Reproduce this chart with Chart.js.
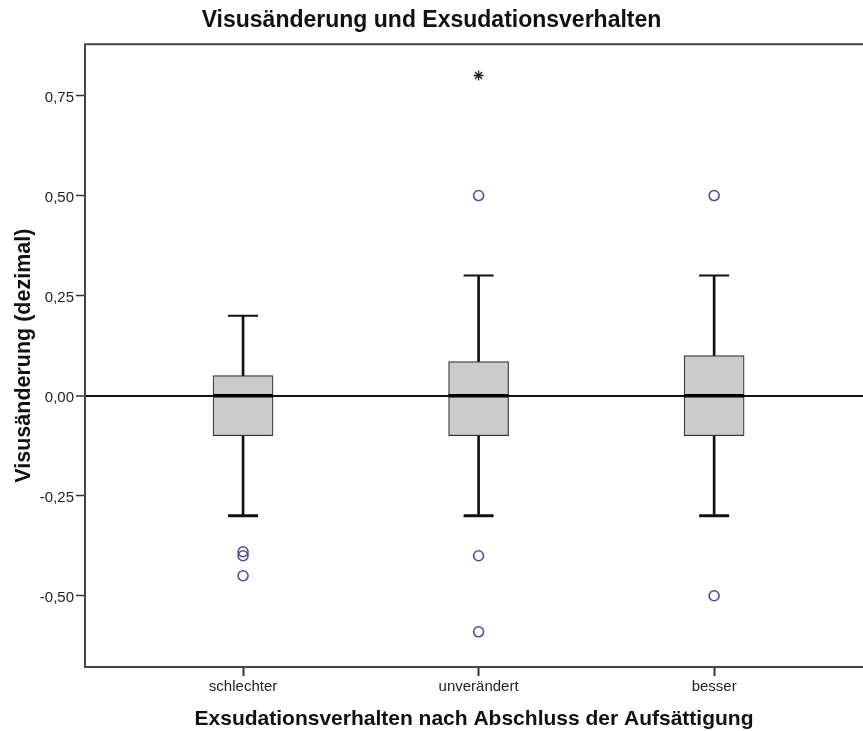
<!DOCTYPE html>
<html lang="de">
<head>
<meta charset="utf-8">
<title>Visusänderung und Exsudationsverhalten</title>
<script src="https://cdn.jsdelivr.net/npm/chart.js@4.4.1/dist/chart.umd.min.js"></script>
<style>
  html, body { margin: 0; padding: 0; background: #fff; overflow: hidden; }
  #wrap { width: 863px; height: 731px; position: relative; }
</style>
</head>
<body>
<div id="wrap"><canvas id="boxplot"></canvas></div>
<script>
const categories = ['schlechter', 'unverändert', 'besser'];
const whiskerLow = [-0.3, -0.3, -0.3];
const quartile1 = [-0.1, -0.1, -0.1];
const medians = [0, 0, 0];
const quartile3 = [0.05, 0.085, 0.1];
const whiskerHigh = [0.2, 0.3, 0.3];
const outliers = [[-0.39, -0.4, -0.45], [0.5, -0.4, -0.59], [0.5, -0.5]];
const extremes = [[], [0.8], []];
const yTicks = [-0.5, -0.25, 0, 0.25, 0.5, 0.75];

const FONT = "'Liberation Sans', Arial, sans-serif";
const pos = (i) => i + 1;
const perCategory = (values) => values.map((v, i) => ({ x: pos(i), y: v }));
const spans = (from, to) => from.map((v, i) => ({ x: pos(i), y: [v, to[i]] }));
const flatPoints = (groups) => groups.flatMap((vals, i) => vals.map((v) => ({ x: pos(i), y: v })));

// open frame round the plot (left, top, bottom), like the SPSS output
const framePlugin = {
  id: 'frame',
  beforeDatasetsDraw(chart) {
    const { ctx, chartArea: a } = chart;
    ctx.save();
    ctx.strokeStyle = '#444';
    ctx.lineWidth = 2;
    ctx.beginPath();
    ctx.moveTo(a.right, a.top);
    ctx.lineTo(a.left, a.top);
    ctx.lineTo(a.left, a.bottom);
    ctx.lineTo(a.right, a.bottom);
    ctx.stroke();
    ctx.restore();
  },
};

const ctx = document.getElementById('boxplot').getContext('2d');
// eslint-disable-next-line no-undef
const chart = new Chart(ctx, {
  type: 'bar',
  data: {
    datasets: [
      {
        type: 'scatter',
        data: perCategory(medians),
        pointStyle: 'line',
        pointRadius: 30,
        pointBorderWidth: 3.5,
        pointBorderColor: '#000',
        order: 0,
      },
      {
        type: 'scatter',
        data: perCategory(whiskerHigh),
        pointStyle: 'line',
        pointRadius: 15,
        pointBorderWidth: 2,
        pointBorderColor: '#111',
        order: 1,
      },
      {
        type: 'scatter',
        data: perCategory(whiskerLow),
        pointStyle: 'line',
        pointRadius: 15,
        pointBorderWidth: 3,
        pointBorderColor: '#111',
        order: 1,
      },
      {
        type: 'scatter',
        data: flatPoints(outliers),
        pointStyle: 'circle',
        pointRadius: 5,
        pointBorderWidth: 1.6,
        pointBorderColor: '#4d4d9c',
        pointBackgroundColor: 'rgba(255,255,255,0)',
        order: 1,
      },
      {
        type: 'scatter',
        data: flatPoints(extremes),
        pointStyle: 'star',
        pointRadius: 5,
        pointBorderWidth: 1.3,
        pointBorderColor: '#222',
        order: 1,
      },
      {
        data: spans(quartile1, quartile3),
        backgroundColor: '#cbcbcb',
        borderColor: '#333',
        borderWidth: 1.2,
        borderSkipped: false,
        barThickness: 60,
        grouped: false,
        order: 2,
      },
      {
        data: spans(quartile3, whiskerHigh),
        backgroundColor: '#111',
        barThickness: 2,
        grouped: false,
        order: 3,
      },
      {
        data: spans(whiskerLow, quartile1),
        backgroundColor: '#111',
        barThickness: 2,
        grouped: false,
        order: 3,
      },
    ],
  },
  options: {
    responsive: true,
    maintainAspectRatio: false,
    animation: false,
    events: [],
    layout: { padding: 0, autoPadding: false },
    plugins: {
      legend: { display: false },
      tooltip: { enabled: false },
      title: {
        display: true,
        text: 'Visusänderung und Exsudationsverhalten',
        color: '#111',
        font: { family: FONT, size: 23, weight: 'bold', lineHeight: 1.1 },
        padding: { top: 8, bottom: 11 },
      },
    },
    scales: {
      x: {
        type: 'linear',
        offset: false,
        min: 0.329,
        max: 3.632,
        afterBuildTicks: (scale) => {
          scale.ticks = categories.map((c, i) => ({ value: pos(i) }));
        },
        afterFit: (scale) => {
          scale.height = 64;
        },
        ticks: {
          callback: (value) => categories[value - 1],
          color: '#222',
          font: { family: FONT, size: 15 },
          padding: 2,
          autoSkip: false,
          maxRotation: 0,
        },
        grid: {
          offset: false,
          drawOnChartArea: false,
          tickLength: 9,
          tickColor: '#333',
          tickWidth: 2,
        },
        border: { display: false },
        title: {
          display: true,
          text: 'Exsudationsverhalten nach Abschluss der Aufsättigung',
          color: '#111',
          font: { family: FONT, size: 21, weight: 'bold', lineHeight: 1.1 },
          padding: { top: 0, bottom: 0 },
        },
      },
      y: {
        min: -0.678,
        max: 0.878,
        afterBuildTicks: (scale) => {
          scale.ticks = yTicks.map((v) => ({ value: v }));
        },
        afterFit: (scale) => {
          scale.width = 85;
        },
        ticks: {
          callback: (value) => value.toFixed(2).replace('.', ','),
          color: '#222',
          font: { family: FONT, size: 15 },
          padding: 2,
          labelOffset: 2,
        },
        grid: {
          color: (c) => (c.tick && c.tick.value === 0 ? '#111' : 'rgba(0,0,0,0)'),
          lineWidth: (c) => (c.tick && c.tick.value === 0 ? 2 : 1),
          tickLength: 9,
          tickColor: '#333',
          tickWidth: 1.5,
        },
        border: { display: false },
        title: {
          display: true,
          text: 'Visusänderung (dezimal)',
          color: '#111',
          font: { family: FONT, size: 21.5, weight: 'bold' },
          padding: { top: 11, bottom: 0 },
        },
      },
    },
  },
  plugins: [framePlugin],
});
</script>
</body>
</html>
